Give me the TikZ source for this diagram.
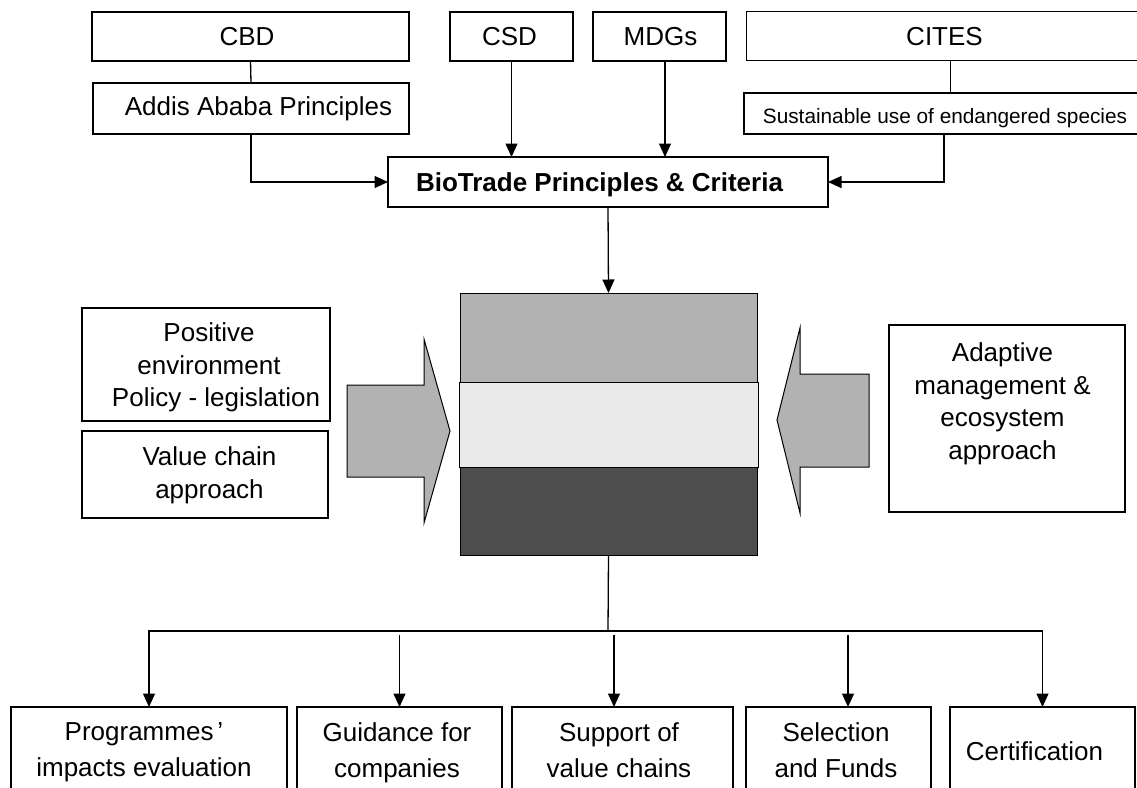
\documentclass[tikz,border=0pt]{standalone}
\usepackage{fontspec}
\setmainfont{Liberation Sans}
\usetikzlibrary{arrows.meta}
\definecolor{gtop}{HTML}{B2B2B2}
\definecolor{gmid}{HTML}{EAEAEA}
\definecolor{gbot}{HTML}{4D4D4D}
\begin{document}
\begin{tikzpicture}[x=1pt,y=-1pt,
  box/.style={draw, line width=1.3pt, inner sep=0pt, outer sep=0pt, rectangle},
  txt/.style={inner sep=0pt, outer sep=0pt, align=center, anchor=north, font=\fontsize{26}{32.5}\selectfont},
  txtb/.style={txt, font=\fontsize{26}{35.5}\selectfont},
  arr/.style={line width=1.3pt, -{Triangle[length=13.5pt,width=12pt]}},
  ln/.style={line width=1.3pt},
  blockarrow/.style={draw, line width=1pt, fill=gtop}]
\useasboundingbox (0,0) rectangle (1137,787);
\begin{scope}
\clip (0,0) rectangle (1137,787);
% top boxes
\node[box, minimum width=317pt, minimum height=49pt] (cbd) at (250.5,36.5) {};
\node[box, minimum width=316pt, minimum height=51pt] (addis) at (251,108.5) {};
\node[box, minimum width=123pt, minimum height=49pt] (csd) at (511.5,36.5) {};
\node[box, minimum width=133pt, minimum height=49pt] (mdgs) at (659.5,36.5) {};
\node[box, minimum width=414pt, minimum height=49pt] (cites) at (953.5,36) {};
\node[box, minimum width=416pt, minimum height=41pt] (sust) at (952,113.5) {};
\node[box, minimum width=440pt, minimum height=50pt] (bio) at (608,182) {};
% texts top
\node[txt] (cbdT) at (247,27) {CBD};
\node[txt] (addisT) at (258.5,97) {Addis Ababa Principles};
\node[txt] (csdT) at (509.5,27) {CSD};
\node[txt] (mdgsT) at (660.5,27) {MDGs};
\node[txt] (citesT) at (944.5,27) {CITES};
\node[txt, font=\fontsize{20.8}{25}\selectfont] (sustT) at (945,108) {Sustainable use of endangered species};
\node[txt, font=\fontsize{26}{32.5}\selectfont\bfseries] (bioT) at (599.5,173) {BioTrade Principles \& Criteria};
% connectors top
\draw[ln] (cbd.south) -- (addis.north);
\draw[arr] (addis.south) |- (bio.west);
\draw[arr] (csd.south) -- (csd.south |- bio.north);
\draw[arr] ([xshift=5.5pt]mdgs.south) -- ([xshift=5.5pt]mdgs.south |- bio.north);
\draw[ln] ([xshift=-3pt]cites.south) -- ([xshift=-3pt]cites.south |- sust.north);
\draw[arr] ([xshift=-8pt]sust.south) |- (bio.east);
% middle block
\node[box, line width=1pt, fill=gtop, minimum width=297pt, minimum height=89pt] (midtop) at (608.5,337.5) {};
\node[box, line width=1pt, fill=gbot, minimum width=297pt, minimum height=88pt] (midbot) at (608.5,511) {};
\node[box, line width=1pt, fill=gmid, minimum width=299pt, minimum height=85pt] (midmid) at (608.5,424.5) {};
\draw[arr] (bio.south) -- (midtop.north);
% block arrows
\draw[blockarrow] (347,385) -- (424,385) -- (424,339) -- (450,431) -- (424,523) -- (424,477) -- (347,477) -- cycle;
\draw[blockarrow] (869,374) -- (800,374) -- (800,328) -- (777,420) -- (800,513) -- (800,467) -- (869,467) -- cycle;
% side boxes
\node[box, minimum width=248pt, minimum height=113pt] (pos) at (206,364.5) {};
\node[box, minimum width=246pt, minimum height=87pt] (val) at (205,474.5) {};
\node[box, minimum width=236pt, minimum height=187pt] (adapt) at (1007,418.5) {};
\node[txt] (posT) at (209,323) {Positive\\environment\\\hspace*{14pt}Policy - legislation};
\node[txt] (valT) at (209.5,447) {Value chain\\approach};
\node[txt] (adaptT) at (1002.5,343) {Adaptive\\management \&\\ecosystem\\approach};
% bottom boxes
\node[box, minimum width=276pt, minimum height=93pt] (b1) at (149,753.5) {};
\node[box, minimum width=205pt, minimum height=93pt] (b2) at (399.5,753.5) {};
\node[box, minimum width=221pt, minimum height=93pt] (b3) at (622.5,753.5) {};
\node[box, minimum width=185pt, minimum height=93pt] (b4) at (838.5,753.5) {};
\node[box, minimum width=185pt, minimum height=93pt] (b5) at (1042.5,753.5) {};
\node[txtb] (b1T) at (144,723) {Programmes\hspace{4pt}’\\impacts evaluation};
\node[txtb] (b2T) at (397,723) {Guidance for\\companies};
\node[txtb] (b3T) at (619,723) {Support of\\value chains};
\node[txtb] (b4T) at (836,723) {Selection\\and Funds};
\node[txtb] (b5T) at (1034.5,742) {Certification};
% bottom connectors
\coordinate (hub) at (608,631);
\coordinate (row) at (0,635);
\draw[ln] (midbot.south) -- (hub);
\draw[arr] (hub) -| (b1.north);
\draw[arr] (hub) -| (b5.north);
\draw[arr] (b2.north |- row) -- (b2.north);
\draw[arr] ([xshift=-8.5pt]b3.north |- row) -- ([xshift=-8.5pt]b3.north);
\draw[arr] ([xshift=9.5pt]b4.north |- row) -- ([xshift=9.5pt]b4.north);
\end{scope}
\end{tikzpicture}
\end{document}
